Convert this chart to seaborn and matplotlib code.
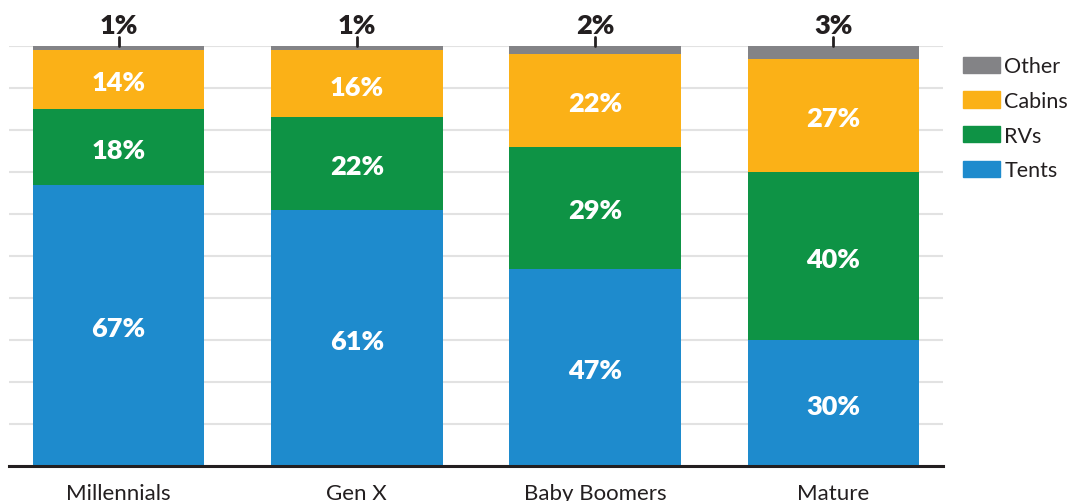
import matplotlib
matplotlib.use("Agg")
import matplotlib.pyplot as plt
import matplotlib.patches as mpatches
import seaborn as sns
import numpy as np
import pandas as pd

categories = ["Millennials", "Gen X", "Baby Boomers", "Mature"]
tents = [67, 61, 47, 30]
rvs = [18, 22, 29, 40]
cabins = [14, 16, 22, 27]
other = [1, 1, 2, 3]
series_names = ["Tents", "RVs", "Cabins", "Other"]
colors = {"Tents": "#1e8bcd", "RVs": "#0e9345", "Cabins": "#fbb117", "Other": "#838386"}

sns.set_theme(style="white")
plt.rcParams["font.family"] = ["Lato", "DejaVu Sans"]
TEXT = "#231f20"

df = pd.DataFrame({"cat": categories, "Tents": tents, "RVs": rvs, "Cabins": cabins, "Other": other})
cum = df[series_names].cumsum(axis=1)
bottoms = cum - df[series_names]

fig = plt.figure(figsize=(10.73, 5.02), dpi=100)
ax = fig.add_axes([9 / 1073, 1 - 467 / 502, (943 - 9) / 1073, (467 - 47) / 502])

# draw from the top layer down so that lower layers cover upper cumulative bars
for name in reversed(series_names):
    sns.barplot(x=df["cat"], y=cum[name], color=colors[name], width=0.72,
                saturation=1, ax=ax, linewidth=0, zorder=2)

# in-bar labels
for i in range(len(categories)):
    for name in ["Tents", "RVs", "Cabins"]:
        v = df.loc[i, name]
        ax.annotate(f"{v}%", xy=(i, bottoms.loc[i, name] + v / 2), xytext=(0, -2),
                    textcoords="offset points", ha="center", va="center",
                    color="white", fontsize=19.5, fontweight="heavy", zorder=5)
    top = cum.loc[i, "Other"]
    ax.plot([i, i], [top, top + 2.2], color=TEXT, lw=2, clip_on=False, zorder=5)
    ax.text(i, top + 3.2, f"{df.loc[i, 'Other']}%", ha="center", va="baseline",
            color=TEXT, fontsize=19.5, fontweight="heavy")

ax.set_xlim(-0.46, 3.46)
ax.set_ylim(0, 100)
ax.set_yticks(np.arange(0, 101, 10))
ax.set_yticklabels([])
ax.yaxis.grid(True, color="#e2e2e2", lw=1.5, zorder=0)
ax.set_axisbelow(True)
ax.tick_params(axis="both", length=0)
ax.tick_params(axis="x", labelsize=16, labelcolor=TEXT, pad=12)
ax.set_xlabel("")
ax.set_ylabel("")
for s in ["left", "right", "top"]:
    ax.spines[s].set_visible(False)
ax.spines["bottom"].set_color(TEXT)
ax.spines["bottom"].set_linewidth(2.2)
ax.spines["bottom"].set_zorder(6)

handles = [mpatches.Patch(color=colors[n], label=n) for n in reversed(series_names)]
fig.legend(handles=handles, loc="upper left", bbox_to_anchor=(959 / 1073, 1 - 53 / 502),
           frameon=False, fontsize=15.5, handlelength=1.7, handleheight=0.8,
           handletextpad=0.2, labelspacing=0.68, labelcolor=TEXT, borderpad=0.2,
           borderaxespad=0)

fig.savefig("out.png", dpi=100)
